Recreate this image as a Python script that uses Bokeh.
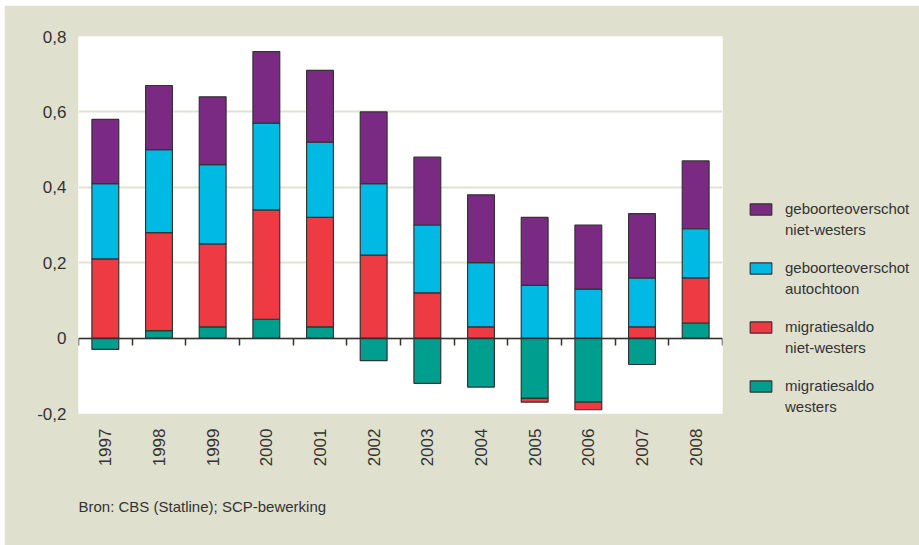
import numpy as np
from bokeh.plotting import figure
from bokeh.models import (Range1d, FixedTicker, LinearAxis, Legend, LegendItem,
                          Title, ColumnDataSource)
from bokeh.embed import file_html
from bokeh.resources import INLINE

# ---- data ----
years = ["1997", "1998", "1999", "2000", "2001", "2002",
         "2003", "2004", "2005", "2006", "2007", "2008"]
migratiesaldo_westers = [-0.03, 0.02, 0.03, 0.05, 0.03, -0.06,
                         -0.12, -0.13, -0.16, -0.17, -0.07, 0.04]
migratiesaldo_niet_westers = [0.21, 0.26, 0.22, 0.29, 0.29, 0.22,
                              0.12, 0.03, -0.01, -0.02, 0.03, 0.12]
geboorteoverschot_autochtoon = [0.20, 0.22, 0.21, 0.23, 0.20, 0.19,
                                0.18, 0.17, 0.14, 0.13, 0.13, 0.13]
geboorteoverschot_niet_westers = [0.17, 0.17, 0.18, 0.19, 0.19, 0.19,
                                  0.18, 0.18, 0.18, 0.17, 0.17, 0.18]
y_ticks = [-0.2, 0.0, 0.2, 0.4, 0.6, 0.8]
y_tick_labels = ["-0,2", "0", "0,2", "0,4", "0,6", "0,8"]
series_label_line1 = ["migratiesaldo", "migratiesaldo",
                      "geboorteoverschot", "geboorteoverschot"]
series_label_line2 = ["westers", "niet-westers", "autochtoon", "niet-westers"]
series_colors = ["#009e8f", "#ee3b43", "#00bae3", "#7a2a82"]
source_note = "Bron: CBS (Statline); SCP-bewerking"

BEIGE = "#e0e0cf"
DARK = "#333333"

p = figure(frame_width=644, frame_height=377,
           x_range=Range1d(-0.5, len(years) - 0.5),
           y_range=Range1d(-0.2, 0.8),
           output_backend="svg", toolbar_location=None,
           margin=(5, 0, 0, 4),
           min_border_left=74, min_border_right=197,
           min_border_top=31, min_border_bottom=132)
p.border_fill_color = BEIGE
p.background_fill_color = "white"
p.outline_line_color = None

# stacked bars (positive up, negative down)
xs = np.arange(len(years))
pos = np.zeros(len(years))
neg = np.zeros(len(years))
renderers = []
for vals, col in zip([migratiesaldo_westers, migratiesaldo_niet_westers,
                      geboorteoverschot_autochtoon, geboorteoverschot_niet_westers],
                     series_colors):
    v = np.array(vals)
    bottom = np.where(v >= 0, pos, neg + v)
    top = np.where(v >= 0, pos + v, neg)
    pos = np.where(v >= 0, pos + v, pos)
    neg = np.where(v < 0, neg + v, neg)
    src = ColumnDataSource(dict(x=xs, bottom=bottom, top=top))
    r = p.vbar(x="x", bottom="bottom", top="top", width=0.5, source=src,
               fill_color=col, line_color=DARK, line_width=1.2)
    renderers.append(r)

# invisible renderer used for the second line of each legend label
blank = p.vbar(x=[], top=[], width=0.5, fill_alpha=0, line_alpha=0)

# y axis
p.yaxis.ticker = FixedTicker(ticks=y_ticks)
p.yaxis.major_label_overrides = {t: l for t, l in zip(y_ticks, y_tick_labels)}
p.yaxis.axis_line_color = None
p.yaxis.major_tick_line_color = None
p.yaxis.major_tick_out = 0
p.yaxis.major_tick_in = 0
p.yaxis.minor_tick_line_color = None
p.yaxis.minor_tick_out = 0
p.yaxis.major_label_standoff = 12
p.yaxis.major_label_text_font = "Liberation Sans"
p.yaxis.major_label_text_font_size = "17px"
p.yaxis.major_label_text_color = DARK

p.ygrid.ticker = FixedTicker(ticks=y_ticks)
p.ygrid.grid_line_color = "#e2e2d2"
p.ygrid.grid_line_width = 2
p.xgrid.grid_line_color = None

# x axis with year labels
p.xaxis.ticker = FixedTicker(ticks=list(xs))
p.xaxis.major_label_overrides = {int(i): y for i, y in zip(xs, years)}
p.xaxis.major_label_orientation = np.pi / 2
p.xaxis.axis_line_color = None
p.xaxis.major_tick_line_color = None
p.xaxis.major_tick_out = 0
p.xaxis.major_tick_in = 0
p.xaxis.minor_tick_line_color = None
p.xaxis.minor_tick_out = 0
p.xaxis.major_label_standoff = 15
p.xaxis.major_label_text_font = "Liberation Sans"
p.xaxis.major_label_text_font_size = "17px"
p.xaxis.major_label_text_color = DARK

# zero line with category boundary ticks
zero_axis = LinearAxis(fixed_location=0,
                       ticker=FixedTicker(ticks=list(np.arange(len(years) + 1) - 0.5)))
zero_axis.axis_line_color = DARK
zero_axis.axis_line_width = 1.5
zero_axis.major_tick_line_color = DARK
zero_axis.major_tick_line_width = 1.5
zero_axis.major_tick_in = 0
zero_axis.major_tick_out = 7
zero_axis.minor_tick_line_color = None
zero_axis.major_label_text_color = None
zero_axis.major_label_text_font_size = "1px"
zero_axis.major_label_standoff = 0
p.add_layout(zero_axis, "below")

# source note
note = Title(text=source_note, align="left", text_font="Liberation Sans",
             text_font_size="15px", text_color=DARK, text_font_style="normal",
             standoff=52)
p.add_layout(note, "below")

# legend: first label line carries the swatch, second line has no swatch
items = []
order = [3, 2, 1, 0]
for k, i in enumerate(order):
    items.append(LegendItem(label=series_label_line1[i], renderers=[renderers[i]]))
    second = series_label_line2[i] + ("\n " if k < len(order) - 1 else "")
    items.append(LegendItem(label=second, renderers=[blank]))
legend = Legend(items=items, location=(25, -2))
legend.background_fill_color = None
legend.border_line_color = None
legend.padding = 0
legend.margin = 0
legend.spacing = 4
legend.glyph_width = 27
legend.glyph_height = 14
legend.label_standoff = 11
legend.label_height = 14
legend.label_text_font = "Liberation Sans"
legend.label_text_font_size = "15px"
legend.label_text_color = DARK
p.add_layout(legend, "right")

open("out.html", "w").write(file_html(p, INLINE))
